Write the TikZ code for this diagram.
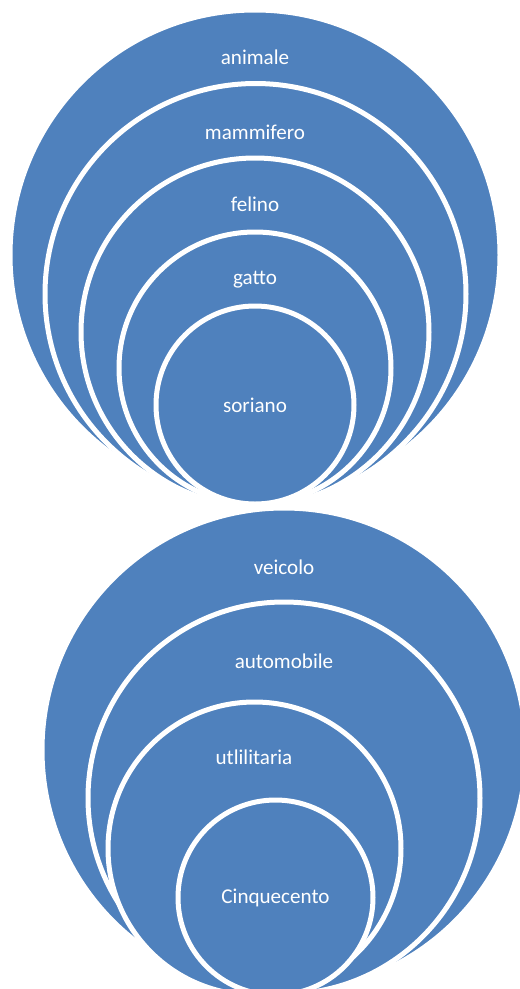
\documentclass[tikz,border=0pt]{standalone}
\usepackage{fontspec}
\setmainfont{Carlito}
\usepackage{tikz}
\definecolor{setblue}{RGB}{79,129,189}
\tikzset{
  setring/.style={circle, fill=setblue, draw=white, line width=5*0.025cm, inner sep=0pt, minimum size=#1*0.025cm},
  settag/.style={text=white, font=\fontsize{15}{18}\selectfont, inner sep=1pt}
}

\begin{document}
\begin{tikzpicture}[x=0.025cm, y=-0.025cm]
\useasboundingbox (0,0) rectangle (520,989);
% animal hierarchy
\node[setring=490] (animale) at (255,255) {};
\node[setring=421] (mammifero) at (255.5,294) {};
\node[setring=348] (felino) at (255,332) {};
\node[setring=272] (gatto) at (255,368) {};
\node[setring=198] (soriano) at (255,405) {};
\node[settag] (tanimale) at (255,57) {animale};
\node[settag] (tmammifero) at (255,132) {mammifero};
\node[settag] (tfelino) at (255,204) {felino};
\node[settag] (tgatto) at (255,280) {gatto};
\node[settag] at (soriano) {soriano};
% vehicle hierarchy
\node[setring=484] (veicolo) at (284,750) {};
\node[setring=392] (automobile) at (284,798) {};
\node[setring=293] (utilitaria) at (254.5,848.5) {};
\node[setring=195] (cinquecento) at (275.5,897.5) {};
\node[settag] (tveicolo) at (284,567) {veicolo};
\node[settag] (tautomobile) at (284,661) {automobile};
\node[settag] (tutilitaria) at (254,757) {utlilitaria};
\node[settag] at (cinquecento) {Cinquecento};
\end{tikzpicture}
\end{document}
